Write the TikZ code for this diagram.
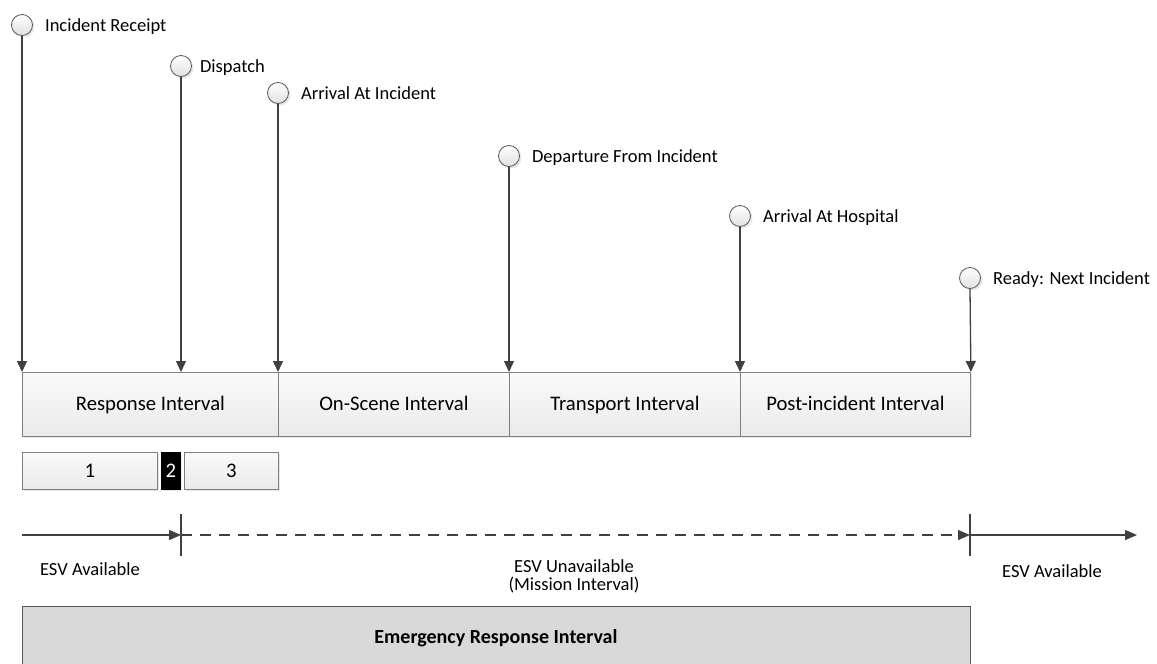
\documentclass[tikz,border=0pt]{standalone}
\usepackage{fontspec}
\setmainfont{Carlito}
\usetikzlibrary{arrows.meta,shadows,calc}

\definecolor{ink}{HTML}{404040}
\definecolor{edge}{HTML}{7F7F7F}
\definecolor{rim}{HTML}{595959}
\definecolor{slab}{HTML}{D9D9D9}

\begin{document}
\begin{tikzpicture}[x=1pt,y=-1pt,
  font=\fontsize{18.5}{18}\selectfont,
  softshadow/.style={drop shadow={opacity=0.18,shadow xshift=2pt,shadow yshift=-2pt}},
  milestone/.style={circle, minimum size=21pt, inner sep=0pt, draw=rim, line width=0.8pt,
    top color=white, bottom color=black!12, softshadow},
  mlabel/.style={anchor=base west, inner sep=0pt, xshift=12pt, yshift=-6pt},
  interval/.style={draw=edge, line width=0.9pt, top color=black!2, bottom color=black!8,
    minimum height=64pt, inner sep=0pt, anchor=north west, softshadow,
    text height=17pt, text depth=4pt, font=\fontsize{20.7}{20}\selectfont},
  phase/.style={draw=edge, line width=0.9pt, top color=black!2, bottom color=black!8,
    minimum height=37pt, inner sep=0pt, anchor=north west, softshadow,
    text height=17pt, text depth=4pt, font=\fontsize{20.7}{20}\selectfont},
  drop/.style={draw=ink, line width=1.3pt, -{Triangle[length=11pt,width=10pt]}},
  axis/.style={draw=ink, line width=1.3pt, -{Triangle[length=12pt,width=10pt]}},
  tick/.style={draw=ink, line width=2pt},
  total/.style={draw=rim, line width=0.9pt, fill=slab, minimum width=948pt,
    minimum height=64pt, inner sep=0pt, text height=15pt, text depth=4pt,
    font=\fontsize{20}{20}\selectfont\bfseries}
]
\path[use as bounding box, clip] (0,0) rectangle (1157,664);

% interval bar
\node[interval, minimum width=256pt] (resp)  at (22,372)  {Response Interval};
\node[interval, minimum width=231pt] (scene) at (278,372) {On-Scene Interval};
\node[interval, minimum width=231pt] (trans) at (509,372) {Transport Interval};
\node[interval, minimum width=230pt] (post)  at (740,372) {Post-incident Interval};

% response sub-phases
\node[phase, minimum width=135pt] (p1) at (22,452) {1};
\node[phase, minimum width=19pt, fill=black, draw=black, top color=black, bottom color=black,
  text=white] (p2) at (161,452) {2};
\node[phase, minimum width=94pt] (p3) at (184,452) {3};

% milestones
\node[milestone] (m1) at (22,25)   {};
\node[milestone] (m2) at (181,66)  {};
\node[milestone] (m3) at (278,93)  {};
\node[milestone] (m4) at (509,156) {};
\node[milestone] (m5) at (740,216) {};
\node[milestone] (m6) at (970,278) {};

\node[mlabel] (l1) at (m1.east) {Incident Receipt};
\node[mlabel, xshift=-4pt] (l2) at (m2.east) {Dispatch};
\node[mlabel] (l3) at (m3.east) {Arrival At Incident};
\node[mlabel] (l4) at (m4.east) {Departure From Incident};
\node[mlabel] (l5) at (m5.east) {Arrival At Hospital};
\node[mlabel] (l6) at (m6.east) {Ready: Next Incident};

\draw[drop] (m1.south) -- (resp.north west);
\draw[drop] (m2.south) -- (m2 |- resp.north);
\draw[drop] (m3.south) -- (scene.north west);
\draw[drop] (m4.south) -- (trans.north west);
\draw[drop] (m5.south) -- (post.north west);
\draw[drop] (m6.south) -- (post.north east);

% availability timeline
\coordinate (t0) at (22,535);
\coordinate (t1) at (181,535);
\coordinate (t2) at (970,535);
\coordinate (t3) at (1137,535);

\draw[axis] (t0) -- (t1);
\draw[axis, dash pattern=on 11pt off 8pt] (t1) -- (t2);
\draw[axis] (t2) -- (t3);
\draw[tick] ($(t1)+(0,-21)$) -- ($(t1)+(0,21)$);
\draw[tick] ($(t2)+(0,-21)$) -- ($(t2)+(0,21)$);

\node (a1) at (90,569) {ESV Available};
\node[align=center] (ua) at (574,576) {ESV Unavailable\\(Mission Interval)};
\node (a2) at (1052,571) {ESV Available};

% overall interval
\node[total] (eri) at (496,638) {Emergency Response Interval};
\end{tikzpicture}
\end{document}
